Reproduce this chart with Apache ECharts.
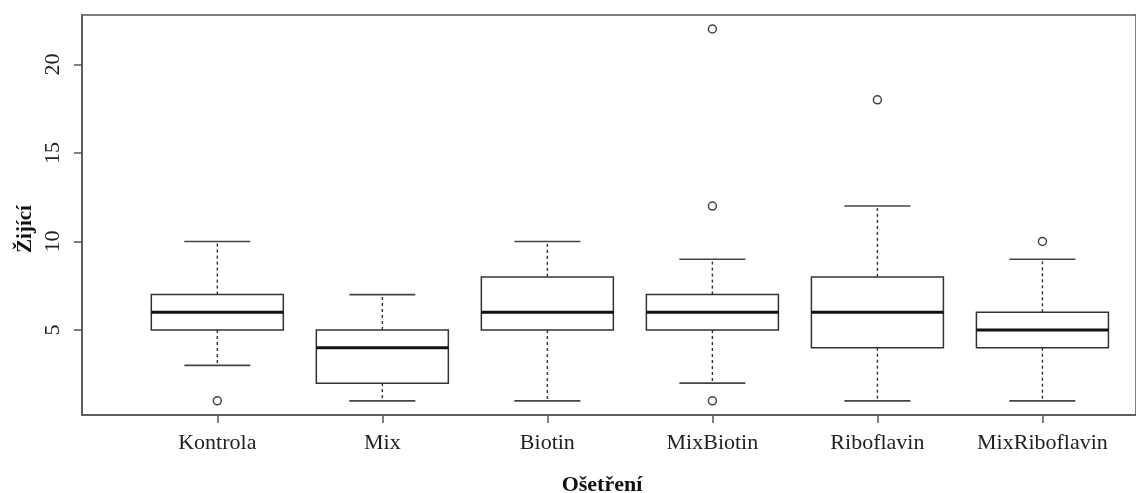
<!DOCTYPE html>
<html>
<head>
<meta charset="utf-8">
<script src="https://cdn.jsdelivr.net/npm/echarts@6/dist/echarts.min.js"></script>
<style>
html,body{margin:0;padding:0;background:#fff;}
#chart{width:1136px;height:493px;}
</style>
</head>
<body>
<div id="chart"></div>
<script>
// ---- data ----
var categories = ['Kontrola', 'Mix', 'Biotin', 'MixBiotin', 'Riboflavin', 'MixRiboflavin'];
var whiskerLow  = [3, 1, 1, 2, 1, 1];
var q1          = [5, 2, 5, 5, 4, 4];
var medians     = [6, 4, 6, 6, 6, 5];
var q3          = [7, 5, 8, 7, 8, 6];
var whiskerHigh = [10, 7, 10, 9, 12, 9];
var outlierCategory = [0, 3, 3, 3, 4, 5];
var outlierValues   = [1, 22, 12, 1, 18, 10];
var yTickValues = [5, 10, 15, 20];
var xTitle = 'Ošetření';
var yTitle = 'Žijící';

// ---- build ----
var boxData = categories.map(function (c, i) {
  return [i + 1, whiskerLow[i], q1[i], medians[i], q3[i], whiskerHigh[i]];
});
var outlierData = outlierCategory.map(function (c, i) {
  return [c + 1, outlierValues[i]];
});
var catPositions = categories.map(function (c, i) { return i + 1; });

var serif = 'Liberation Serif, Times New Roman, serif';

function renderBox(params, api) {
  var x = api.value(0);
  var lo = api.coord([x, api.value(1)]);
  var b1 = api.coord([x, api.value(2)]);
  var md = api.coord([x, api.value(3)]);
  var b3 = api.coord([x, api.value(4)]);
  var hi = api.coord([x, api.value(5)]);
  var w = api.size([0.8, 0])[0];
  var cw = api.size([0.4, 0])[0];
  var cx = lo[0];
  var boxStyle = { stroke: '#333', lineWidth: 1.5, fill: null };
  var dashStyle = { stroke: '#333', lineWidth: 1.4, lineDash: [3, 3] };
  var capStyle = { stroke: '#444', lineWidth: 1.6 };
  return {
    type: 'group',
    children: [
      { type: 'line', shape: { x1: cx, y1: b3[1], x2: cx, y2: hi[1] }, style: dashStyle },
      { type: 'line', shape: { x1: cx, y1: b1[1], x2: cx, y2: lo[1] }, style: dashStyle },
      { type: 'line', shape: { x1: cx - cw / 2, y1: hi[1], x2: cx + cw / 2, y2: hi[1] }, style: capStyle },
      { type: 'line', shape: { x1: cx - cw / 2, y1: lo[1], x2: cx + cw / 2, y2: lo[1] }, style: capStyle },
      { type: 'rect', shape: { x: cx - w / 2, y: b3[1], width: w, height: b1[1] - b3[1] }, style: boxStyle },
      { type: 'line', shape: { x1: cx - w / 2, y1: md[1], x2: cx + w / 2, y2: md[1] }, style: { stroke: '#111', lineWidth: 3 } }
    ]
  };
}

var chart = echarts.init(document.getElementById('chart'), null, { renderer: 'canvas' });
chart.setOption({
  backgroundColor: '#fff',
  animation: false,
  grid: {
    left: 82, right: -5, top: 15, bottom: 78,
    show: true, borderColor: '#555', borderWidth: 1.5, backgroundColor: 'transparent'
  },
  xAxis: {
    type: 'value',
    min: 0.18, max: 6.567,
    axisLine: { show: true, lineStyle: { color: '#555', width: 1.5 } },
    axisTick: { show: true, customValues: catPositions, length: 8, lineStyle: { color: '#555', width: 1.5 } },
    axisLabel: {
      customValues: catPositions,
      margin: 17,
      fontFamily: serif, fontSize: 22, color: '#222',
      formatter: function (v) { return categories[Math.round(v) - 1] || ''; }
    },
    splitLine: { show: false }
  },
  yAxis: {
    type: 'value',
    min: 0.2, max: 22.79,
    axisLine: { show: true, lineStyle: { color: '#555', width: 1.5 } },
    axisTick: { show: true, customValues: yTickValues, length: 8, lineStyle: { color: '#555', width: 1.5 } },
    axisLabel: {
      customValues: yTickValues,
      rotate: 90,
      margin: 18,
      fontFamily: serif, fontSize: 22, color: '#222'
    },
    splitLine: { show: false }
  },
  graphic: [
    {
      type: 'text',
      x: 602, y: 496,
      style: { text: xTitle, align: 'center', verticalAlign: 'bottom', font: 'bold 22px ' + serif, fill: '#111' }
    },
    {
      type: 'text',
      x: 26, y: 229, rotation: Math.PI / 2,
      style: { text: yTitle, align: 'center', verticalAlign: 'middle', font: 'bold 21px ' + serif, fill: '#111' }
    }
  ],
  series: [
    {
      type: 'custom',
      renderItem: renderBox,
      data: boxData,
      encode: { x: 0, y: [1, 2, 3, 4, 5] },
      clip: false
    },
    {
      type: 'scatter',
      data: outlierData,
      symbol: 'circle',
      symbolSize: 8,
      itemStyle: { color: '#fff', borderColor: '#444', borderWidth: 1.5, opacity: 1 }
    }
  ]
});
</script>
</body>
</html>
